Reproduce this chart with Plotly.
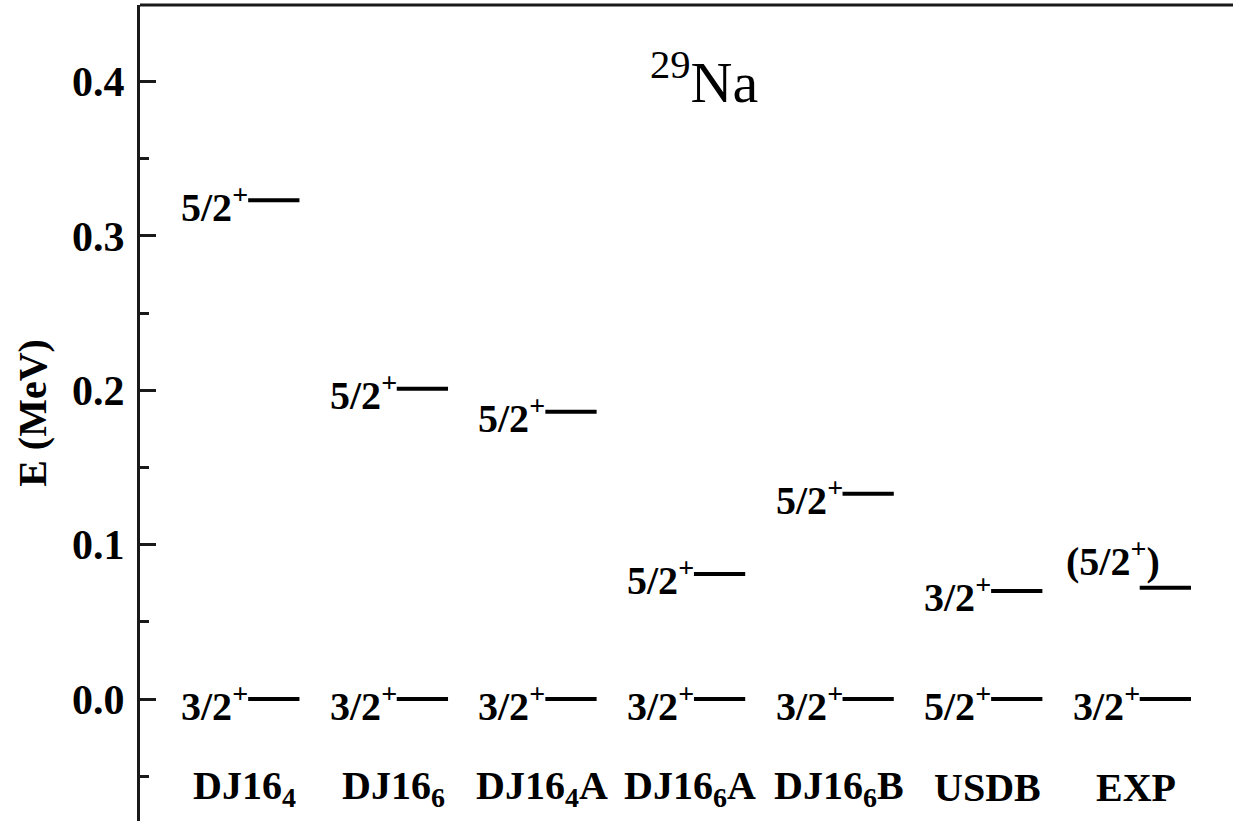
import plotly.graph_objects as go

# Shell-model calculations vs. experiment for the two lowest states of 29Na
models = ["DJ16<sub>4</sub>", "DJ16<sub>6</sub>", "DJ16<sub>4</sub>A", "DJ16<sub>6</sub>A",
          "DJ16<sub>6</sub>B", "USDB", "EXP"]
ground_spin = ["3/2+", "3/2+", "3/2+", "3/2+", "3/2+", "5/2+", "3/2+"]
ground_energy = [0.0, 0.0, 0.0, 0.0, 0.0, 0.0, 0.0]
excited_spin = ["5/2+", "5/2+", "5/2+", "5/2+", "5/2+", "3/2+", "(5/2+)"]
excited_energy = [0.323, 0.201, 0.186, 0.081, 0.133, 0.070, 0.072]

y_ticks = [0.0, 0.1, 0.2, 0.3, 0.4]

SERIF = "Liberation Serif"
LEVEL_W = 0.345  # level bar length in category units


def spin_html(s):
    """Turn '5/2+' or '(5/2+)' into HTML with a superscript parity sign."""
    tentative = s.startswith("(")
    core = s.strip("()")
    txt = core[:-1] + "<sup>" + core[-1] + "</sup>"
    if tentative:
        txt = "(" + txt + ")"
    return "<b>" + txt + "</b>", tentative


fig = go.Figure()
annotations = []

for i, name in enumerate(models):
    for spin, e in ((ground_spin[i], ground_energy[i]), (excited_spin[i], excited_energy[i])):
        fig.add_trace(go.Scatter(
            x=[i, i + LEVEL_W], y=[e, e], mode="lines",
            line=dict(color="black", width=4), showlegend=False, hoverinfo="skip"))
        txt, tentative = spin_html(spin)
        annotations.append(dict(
            x=i, y=e, xref="x", yref="y", text=txt, showarrow=False,
            xanchor="right", yanchor="middle",
            xshift=22 if tentative else 2, yshift=29 if tentative else -4,
            font=dict(family=SERIF, size=40, color="black")))
    annotations.append(dict(
        x=i - 0.025, y=-0.0575, xref="x", yref="y", text="<b>" + name + "</b>",
        showarrow=False, xanchor="center", yanchor="middle",
        font=dict(family=SERIF, size=40, color="black")))

annotations.append(dict(
    x=0.52, y=0.402, xref="paper", yref="y", text="<sup>29</sup>Na",
    showarrow=False, xanchor="center", yanchor="middle",
    font=dict(family=SERIF, size=58, color="black")))

# top frame line drawn across the full width as a paper-referenced shape
shapes = [dict(type="line", xref="paper", yref="paper", x0=0, x1=1.01, y0=1, y1=1,
               line=dict(color="#1a1a1a", width=3))]

fig.update_layout(
    width=1233, height=821,
    margin=dict(l=140, r=8, t=5, b=0, pad=0),
    paper_bgcolor="white", plot_bgcolor="white",
    annotations=annotations,
    shapes=shapes,
    xaxis=dict(range=[-0.728, 6.574], showline=False, showticklabels=False, ticks="",
               showgrid=False, zeroline=False, fixedrange=True),
    yaxis=dict(range=[-0.079, 0.4495], showline=True, linecolor="#1a1a1a", linewidth=3,
               tickvals=y_ticks, ticktext=[f"{v:.1f}" for v in y_ticks],
               ticks="inside", ticklen=16, tickwidth=3, tickcolor="#1a1a1a",
               minor=dict(dtick=0.05, ticks="inside", ticklen=9, tickwidth=3,
                          tickcolor="#1a1a1a", showgrid=False),
               tickfont=dict(family=SERIF, size=42, color="black", weight="bold"),
               ticklabelstandoff=4,
               showgrid=False, zeroline=False, fixedrange=True,
               title=dict(text="<b>E (MeV)</b>", standoff=14,
                          font=dict(family=SERIF, size=40, color="black"))),
)

fig.write_html("out.html", config={"displayModeBar": False, "staticPlot": True})
